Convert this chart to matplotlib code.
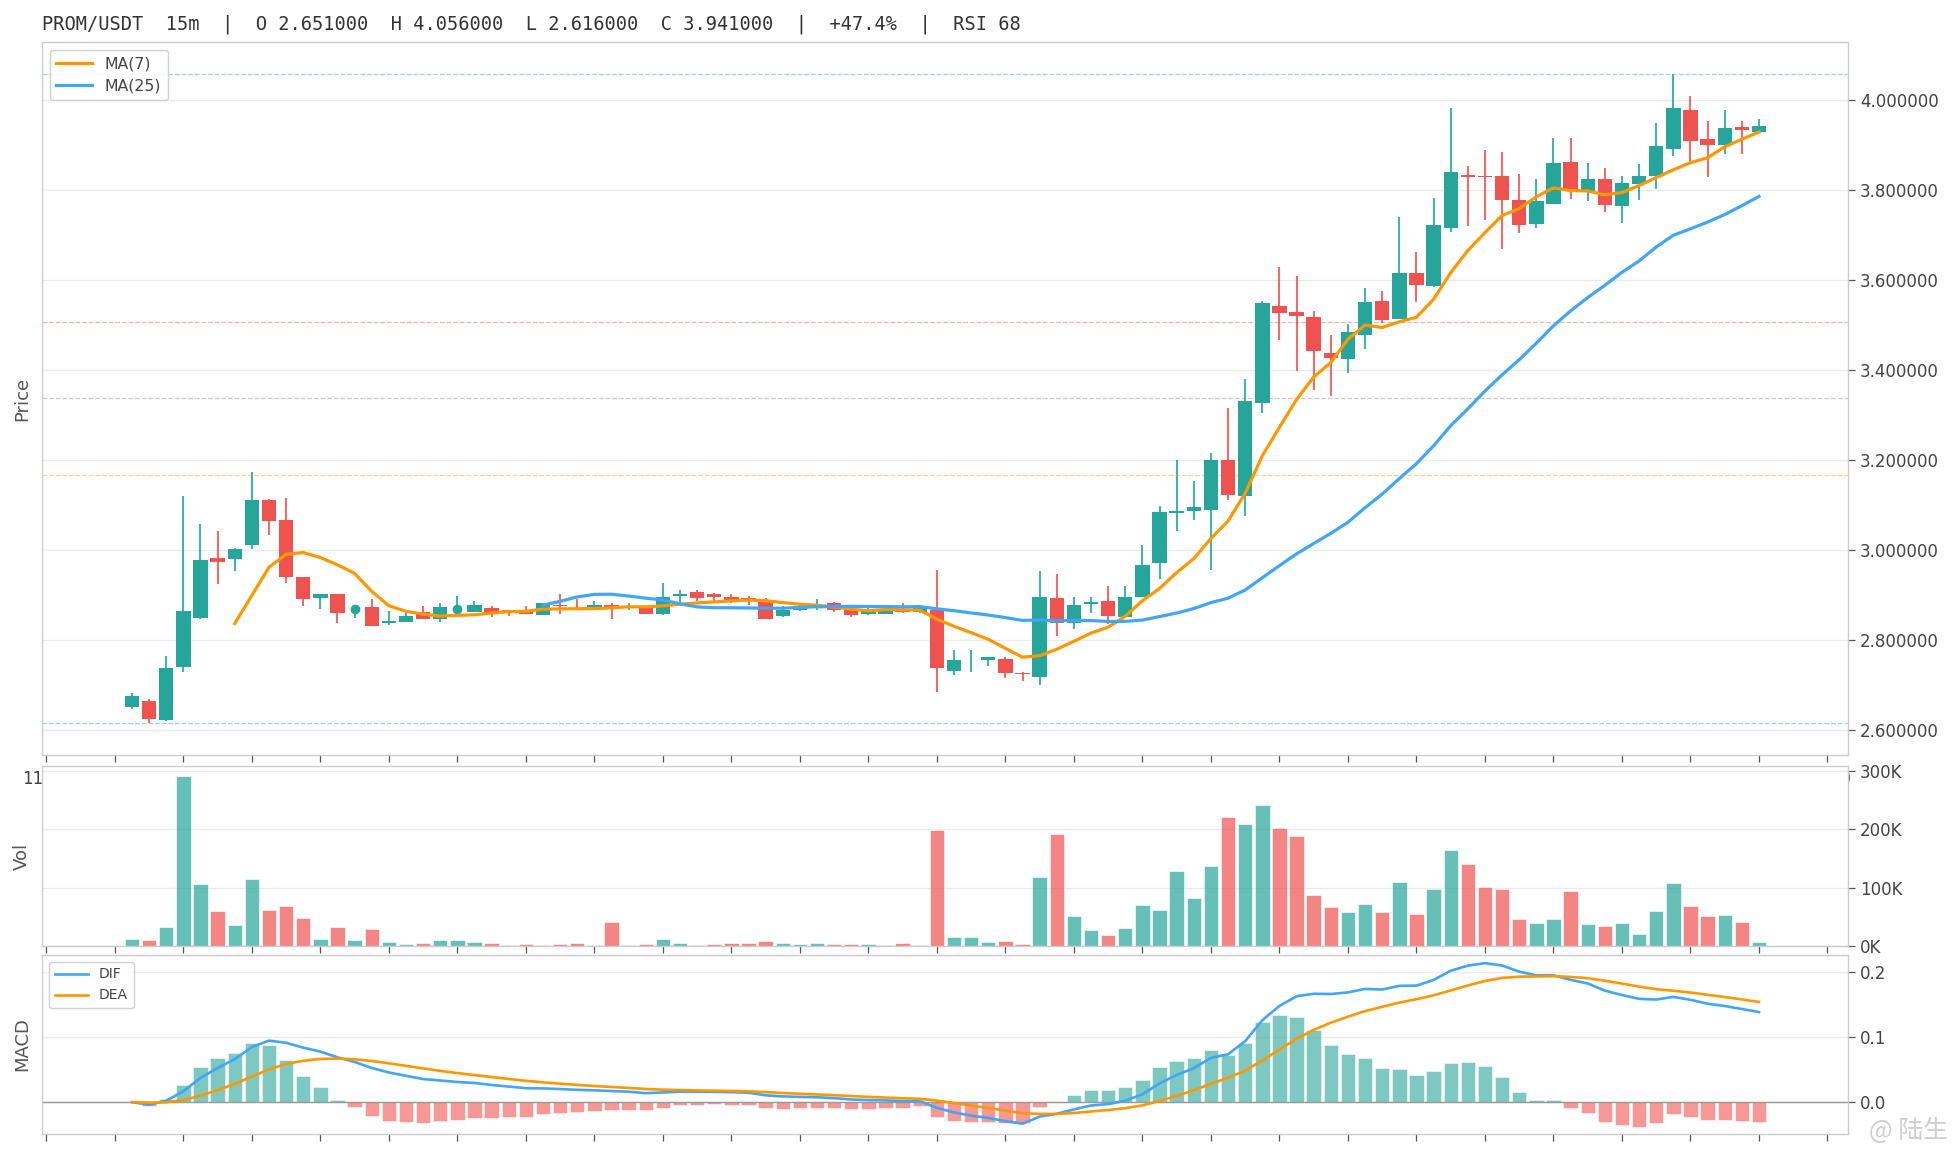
import numpy as np
import pandas as pd
import matplotlib
matplotlib.use("Agg")
import matplotlib.pyplot as plt
from matplotlib.ticker import FuncFormatter, FormatStrFormatter

# 15m candles
opens = [2.651, 2.665, 2.621, 2.739, 2.848, 2.981, 2.979, 3.010, 3.110, 3.065,
         2.939, 2.893, 2.901, 2.869, 2.872, 2.837, 2.839, 2.861, 2.846, 2.869,
         2.861, 2.870, 2.866, 2.864, 2.855, 2.878, 2.873, 2.873, 2.878, 2.872,
         2.871, 2.858, 2.897, 2.905, 2.901, 2.896, 2.892, 2.885, 2.853, 2.866,
         2.875, 2.881, 2.867, 2.857, 2.858, 2.867, 2.861, 2.867, 2.730, 2.754,
         2.755, 2.758, 2.726, 2.717, 2.892, 2.837, 2.880, 2.885, 2.850, 2.894,
         2.970, 3.082, 3.087, 3.089, 3.199, 3.119, 3.327, 3.541, 3.528, 3.516,
         3.436, 3.423, 3.476, 3.553, 3.513, 3.615, 3.586, 3.715, 3.832, 3.830,
         3.830, 3.777, 3.724, 3.769, 3.861, 3.798, 3.823, 3.764, 3.813, 3.830,
         3.891, 3.976, 3.912, 3.899, 3.939, 3.928]
highs = [2.681, 2.668, 2.763, 3.119, 3.058, 3.041, 3.004, 3.172, 3.112, 3.114,
         2.940, 2.902, 2.902, 2.869, 2.890, 2.863, 2.863, 2.876, 2.881, 2.898,
         2.887, 2.875, 2.867, 2.876, 2.881, 2.901, 2.890, 2.887, 2.881, 2.881,
         2.873, 2.927, 2.910, 2.910, 2.904, 2.901, 2.898, 2.892, 2.876, 2.878,
         2.890, 2.884, 2.867, 2.870, 2.875, 2.881, 2.875, 2.956, 2.778, 2.778,
         2.762, 2.761, 2.729, 2.952, 2.947, 2.896, 2.894, 2.919, 2.919, 3.010,
         3.098, 3.199, 3.152, 3.214, 3.314, 3.379, 3.552, 3.627, 3.609, 3.530,
         3.476, 3.502, 3.581, 3.575, 3.739, 3.661, 3.781, 3.981, 3.852, 3.888,
         3.883, 3.834, 3.823, 3.914, 3.914, 3.859, 3.848, 3.830, 3.857, 3.948,
         4.056, 4.007, 3.952, 3.976, 3.952, 3.956]
lows = [2.647, 2.616, 2.619, 2.728, 2.846, 2.924, 2.953, 3.001, 3.033, 2.926,
        2.875, 2.868, 2.837, 2.849, 2.830, 2.833, 2.839, 2.846, 2.839, 2.869,
        2.861, 2.850, 2.853, 2.857, 2.854, 2.858, 2.869, 2.867, 2.847, 2.866,
        2.858, 2.854, 2.882, 2.887, 2.884, 2.881, 2.878, 2.847, 2.850, 2.864,
        2.867, 2.861, 2.850, 2.855, 2.857, 2.859, 2.860, 2.684, 2.721, 2.728,
        2.741, 2.715, 2.708, 2.699, 2.808, 2.824, 2.859, 2.835, 2.850, 2.894,
        2.935, 3.041, 3.066, 2.955, 3.110, 3.075, 3.303, 3.467, 3.397, 3.355,
        3.341, 3.392, 3.445, 3.503, 3.513, 3.551, 3.584, 3.706, 3.720, 3.732,
        3.668, 3.704, 3.715, 3.769, 3.780, 3.775, 3.751, 3.726, 3.777, 3.802,
        3.875, 3.864, 3.828, 3.879, 3.879, 3.928]
closes = [2.674, 2.624, 2.738, 2.863, 2.978, 2.973, 3.002, 3.110, 3.064, 2.939,
          2.890, 2.901, 2.859, 2.869, 2.830, 2.841, 2.852, 2.846, 2.872, 2.869,
          2.878, 2.858, 2.861, 2.858, 2.881, 2.875, 2.872, 2.878, 2.873, 2.875,
          2.858, 2.896, 2.901, 2.892, 2.894, 2.889, 2.888, 2.847, 2.867, 2.875,
          2.877, 2.866, 2.855, 2.864, 2.867, 2.861, 2.871, 2.737, 2.754, 2.756,
          2.761, 2.726, 2.724, 2.894, 2.837, 2.878, 2.884, 2.852, 2.896, 2.967,
          3.083, 3.085, 3.094, 3.199, 3.121, 3.330, 3.548, 3.526, 3.519, 3.442,
          3.425, 3.483, 3.550, 3.511, 3.615, 3.589, 3.721, 3.839, 3.828, 3.828,
          3.777, 3.722, 3.774, 3.859, 3.797, 3.823, 3.766, 3.814, 3.830, 3.897,
          3.981, 3.908, 3.899, 3.936, 3.933, 3.941]
volumes = [12, 10, 33, 291, 106, 60, 36, 115, 62, 69,
           48, 12, 33, 10, 29, 7, 3.4, 5, 10, 10,
           7, 5, 2, 3.4, 2, 3.4, 5, 2, 41, 2,
           3.4, 12, 5, 2, 3.4, 5, 5, 8.6, 5, 3.4,
           5, 3.4, 3.4, 3.4, 2, 5, 2, 199, 15, 15,
           7, 8.6, 3.4, 118, 192, 51, 27, 19, 31, 70,
           62, 129, 82, 137, 221, 209, 242, 202, 189, 87,
           67, 58, 72, 58, 110, 55, 98, 165, 141, 101,
           98, 46, 39, 46, 94, 38, 34, 39, 21, 60,
           108, 69, 51, 53, 41, 7]  # thousands

hour_labels = [f"{h % 24:02d}:00" for h in range(11, 38)]
title = ("PROM/USDT  15m  |  O 2.651000  H 4.056000  L 2.616000  C 3.941000"
         "  |  +47.4%  |  RSI 68")

UP = '#26a69a'
DOWN = '#ef5350'
ORANGE = '#ff9800'
BLUE = '#42a5f5'
GRID = '#ebebeb'
SPINE = '#cccccc'

df = pd.DataFrame({'open': opens, 'high': highs, 'low': lows,
                   'close': closes, 'vol': np.array(volumes) * 1000})
n = len(df)
x = np.arange(n)
up = df['close'] >= df['open']
cols = np.where(up, UP, DOWN)

ma7 = df['close'].rolling(7).mean()
ma25 = df['close'].rolling(25).mean()
dif = df['close'].ewm(span=12, adjust=False).mean() - df['close'].ewm(span=26, adjust=False).mean()
dea = dif.ewm(span=9, adjust=False).mean()
hist = 2 * (dif - dea)

plt.rcParams['font.family'] = 'DejaVu Sans'

fig = plt.figure(figsize=(19.56, 11.56), dpi=100)
L, W = 0.0215, 0.9233
ax = fig.add_axes([L, 0.3469, W, 0.6168])
axv = fig.add_axes([L, 0.1817, W, 0.1557])
axm = fig.add_axes([L, 0.0190, W, 0.1549])


def style(a):
    a.set_facecolor('white')
    for s in a.spines.values():
        s.set_color(SPINE)
        s.set_linewidth(1.0)
    a.yaxis.tick_right()
    a.yaxis.set_label_position('left')
    a.tick_params(axis='both', direction='out', length=5, width=0.9,
                  color='#555555', labelcolor='#444444', labelsize=12)
    a.grid(axis='y', color=GRID, lw=1.0)
    a.grid(axis='x', visible=False)
    a.set_axisbelow(True)
    a.set_xlim(-5.25, 100.2)
    a.set_xticks(np.arange(-5, 100, 4))


for a in (ax, axv, axm):
    style(a)

# price panel
ax.vlines(x, df['low'], df['high'], colors=cols, lw=1.5, alpha=0.85, zorder=2)
body = (df['close'] - df['open']).abs()
bottom = df[['open', 'close']].min(axis=1)
ax.bar(x, body, bottom=bottom, width=0.84, color=cols, lw=0, zorder=3)
doji = df['close'] == df['open']
ax.plot(x[doji], df['close'][doji], 'o', ms=6, color=UP, zorder=3, ls='none')
ax.plot(x, ma7, color=ORANGE, lw=2.3, label='MA(7)', zorder=4)
ax.plot(x, ma25, color=BLUE, lw=2.3, label='MA(25)', zorder=4)

hi, lo = df['high'].max(), df['low'].min()
rng = hi - lo
ax.axhline(hi, color=UP, ls='--', lw=0.9, alpha=0.45)
ax.axhline(lo, color=UP, ls='--', lw=0.9, alpha=0.45)
for r, c in [(0.382, DOWN), (0.5, '#888888'), (0.618, ORANGE)]:
    ax.axhline(hi - r * rng, color=c, ls='--', lw=0.9, alpha=0.45)

ax.set_ylim(lo - 0.05 * rng, hi + 0.05 * rng)
ax.set_yticks(np.arange(2.6, 4.01, 0.2))
ax.yaxis.set_major_formatter(FormatStrFormatter('%.6f'))
ax.set_xticklabels(hour_labels)
ax.tick_params(axis='x', labelsize=12, pad=6)
ax.set_ylabel('Price', fontsize=13, color='#555555', labelpad=8)
leg = ax.legend(loc='upper left', fontsize=11.3, frameon=True, handlelength=2.3,
                edgecolor=SPINE, framealpha=0.9)
for t in leg.get_texts():
    t.set_color('#444444')

# volume panel
axv.bar(x, df['vol'], width=0.84, color=cols, alpha=0.7, edgecolor='white', lw=0.6)
axv.set_ylim(0, 308000)
axv.set_yticks([0, 100000, 200000, 300000])
axv.yaxis.set_major_formatter(FuncFormatter(lambda v, p: f"{v / 1000:.0f}K"))
axv.tick_params(axis='x', labelbottom=False)
axv.set_ylabel('Vol', fontsize=13, color='#555555', labelpad=8)

# macd panel
hcols = np.where(hist >= 0, UP, DOWN)
axm.bar(x, hist, width=0.84, color=hcols, alpha=0.6, edgecolor='white', lw=0.6)
axm.axhline(0, color='#999999', lw=1.0, zorder=1)
axm.plot(x, dif, color=BLUE, lw=1.9, label='DIF')
axm.plot(x, dea, color=ORANGE, lw=1.9, label='DEA')
axm.set_ylim(-0.049, 0.226)
axm.set_yticks([0.0, 0.1, 0.2])
axm.yaxis.set_major_formatter(FormatStrFormatter('%.1f'))
axm.tick_params(axis='x', labelbottom=False)
axm.set_ylabel('MACD', fontsize=13, color='#555555', labelpad=8)
leg2 = axm.legend(loc='upper left', fontsize=10, frameon=True, handlelength=2.4,
                  edgecolor=SPINE, framealpha=0.9)
for t in leg2.get_texts():
    t.set_color('#444444')

fig.text(0.0215, 0.979, title, family='DejaVu Sans Mono', fontsize=13.45,
         color='#333333', va='center', ha='left')
fig.text(0.996, 0.022, '@ 陆生', family=['Noto Sans CJK SC', 'DejaVu Sans'],
         fontsize=18, color='#cfcfcf', ha='right', va='center')

fig.savefig('out.png', dpi=100)
